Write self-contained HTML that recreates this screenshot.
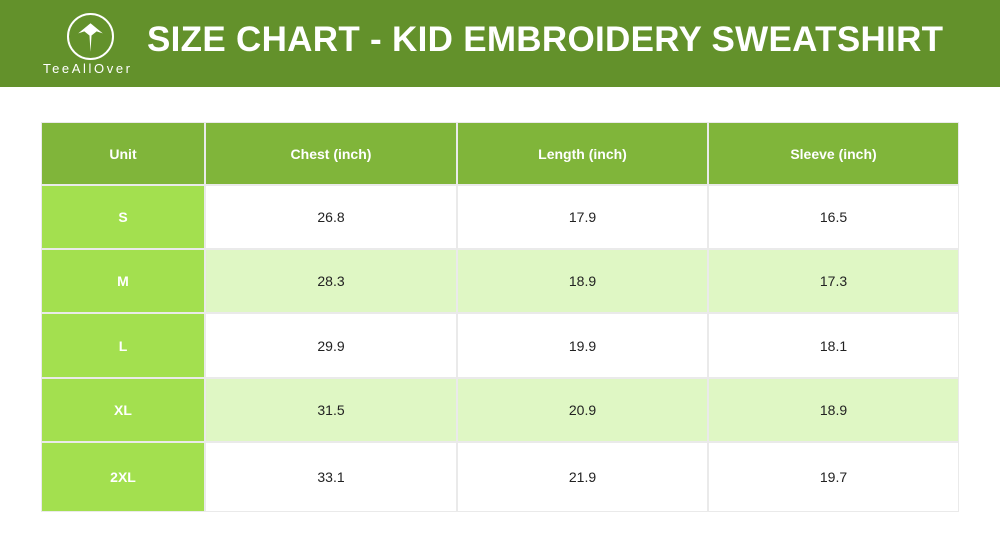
<!DOCTYPE html>
<html><head><meta charset="utf-8"><style>
body{margin:0;width:1000px;height:550px;background:#fff;position:relative;overflow:hidden;font-family:"Liberation Sans",sans-serif}
.hdr{position:absolute;left:0;top:0;width:1000px;height:87px;background:#63912b}
.title{position:absolute;left:147px;top:18px;color:#fff;font-weight:bold;font-size:35px;letter-spacing:0.3px;white-space:nowrap;line-height:44px}
.logo{position:absolute;left:67px;top:13px;width:43px;height:43px;border:2px solid #fff;border-radius:50%}
.brand{position:absolute;left:43px;top:61px;color:#fff;font-size:13px;letter-spacing:2.6px}
.c{position:absolute;display:flex;align-items:center;justify-content:center;font-size:14px;color:#222;box-sizing:border-box;border:1px solid #eaeaea}
.h{background:#80b53a;color:#fff;font-weight:bold}
.u{background:#a3e04f;color:#fff;font-weight:bold}
.a{background:#dff7c4}
</style></head><body>
<div class="hdr">
<div class="logo">
<svg width="43" height="43" viewBox="0 0 42 42"><path d="M9 18 L21 8 L33 18 L27 16 L22 20 L21 36 L20 20 L15 16 Z" fill="#fff"/></svg></div>
<div class="brand">TeeAllOver</div>
<div class="title">SIZE CHART - KID EMBROIDERY SWEATSHIRT</div>
</div>
<div id="t"></div>
<script>
const cols=[41,205,457,708,959];
const rowsY=[122,185,249,313,378,442,512];
const headers=["Unit","Chest (inch)","Length (inch)","Sleeve (inch)"];
const sizes=["S","M","L","XL","2XL"];
const chest=["26.8","28.3","29.9","31.5","33.1"];
const length=["17.9","18.9","19.9","20.9","21.9"];
const sleeve=["16.5","17.3","18.1","18.9","19.7"];
const t=document.getElementById('t');
function cell(x,y,w,h,txt,cls,name){const d=document.createElement('div');d.className='c '+cls;d.style.cssText=`left:${x}px;top:${y}px;width:${w}px;height:${h}px`;d.textContent=txt;


t.appendChild(d);}
headers.forEach((h,i)=>cell(cols[i],rowsY[0],cols[i+1]-cols[i],rowsY[1]-rowsY[0],h,'h','header-cell'));
sizes.forEach((s,r)=>{const y=rowsY[r+1],h=rowsY[r+2]-y,alt=r%2?'a':'';
cell(cols[0],y,cols[1]-cols[0],h,s,'u','size-label');
[chest,length,sleeve].forEach((arr,i)=>cell(cols[i+1],y,cols[i+2]-cols[i+1],h,arr[r],alt,'value-cell'));});
</script>
</body></html>
